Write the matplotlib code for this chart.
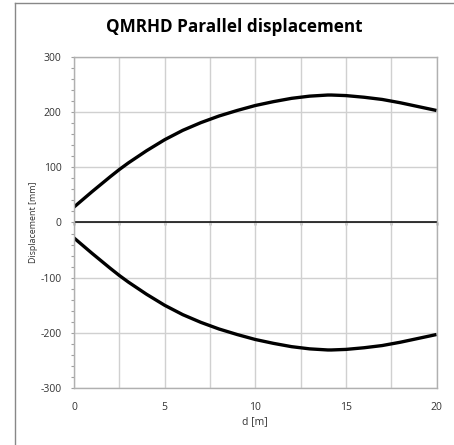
import matplotlib.pyplot as plt
from matplotlib.lines import Line2D

# Displacement values
d = [0, 1, 2, 2.5, 3, 4, 5, 6, 7, 7.5, 8, 9, 10, 11, 12, 12.5, 13, 14, 14.2, 15, 16, 17, 17.5, 18, 19, 20]
upper = [28, 56, 83, 96, 108, 130, 150, 167, 181, 187, 193, 203, 212, 219, 225, 227, 229, 231, 231, 230, 227, 223, 220, 217, 210, 203]
lower = [-28, -56, -83, -96, -108, -130, -150, -167, -181, -187, -193, -203, -212, -219, -225, -227, -229, -231, -231, -230, -227, -223, -220, -217, -210, -203]

x_major = [0, 5, 10, 15, 20]
x_minor = [2.5, 7.5, 12.5, 17.5]
y_major = [-300, -200, -100, 0, 100, 200, 300]
y_minor = list(range(-300, 301, 20))

plt.rcParams["font.family"] = ["Open Sans", "DejaVu Sans"]
plt.rcParams["axes.unicode_minus"] = False

fig = plt.figure(figsize=(4.54, 4.45), dpi=100)
ax = fig.add_axes([0.163, 0.128, 0.7985, 0.744])

ax.plot(d, upper, color="black", linewidth=2.4, solid_capstyle="butt")
ax.plot(d, lower, color="black", linewidth=2.4, solid_capstyle="butt")

ax.set_xlim(0, 20)
ax.set_ylim(-300, 300)
ax.set_xticks(x_major)
ax.set_xticks(x_minor, minor=True)
ax.set_yticks(y_major)
ax.set_yticks(y_minor, minor=True)
ax.grid(True, which="major", color="#d0d0d0", linewidth=1)
ax.grid(True, which="minor", axis="x", color="#d0d0d0", linewidth=1)
ax.set_axisbelow(True)

ax.tick_params(axis="x", which="both", length=0, pad=10, labelsize=7.5, labelcolor="#333333")
ax.tick_params(axis="y", which="major", length=2, width=0.8, pad=7, labelsize=7.5, color="#a0a0a0", labelcolor="#333333")
ax.tick_params(axis="y", which="minor", length=2, width=0.8, color="#a0a0a0")

for s in ax.spines.values():
    s.set_color("#b0b0b0")
    s.set_linewidth(1)

# zero line with small tick marks
ax.axhline(0, color="black", linewidth=1.1, zorder=1.5)
sec = ax.secondary_xaxis(0.5)
sec.set_xticks(x_major + x_minor)
sec.set_xticklabels([])
sec.tick_params(direction="in", length=2.5, width=1, color="black", labelbottom=False, labeltop=False)
for s in sec.spines.values():
    s.set_visible(False)

fig.text(0.515, 0.939, "QMRHD Parallel displacement", fontsize=12.3, fontweight="bold",
         ha="center", va="center")
ax.set_xlabel("d [m]", fontsize=7.5, color="#333333", labelpad=2)
ax.set_ylabel("Displacement [mm]", fontsize=6.4, color="#333333", labelpad=1.5)

# chart frame
fig.add_artist(Line2D([0.032, 0.032], [0.0, 0.9926], transform=fig.transFigure, color="#888888", linewidth=1))
fig.add_artist(Line2D([0.032, 1.0], [0.9926, 0.9926], transform=fig.transFigure, color="#888888", linewidth=1))

fig.savefig("out.png", dpi=100)
